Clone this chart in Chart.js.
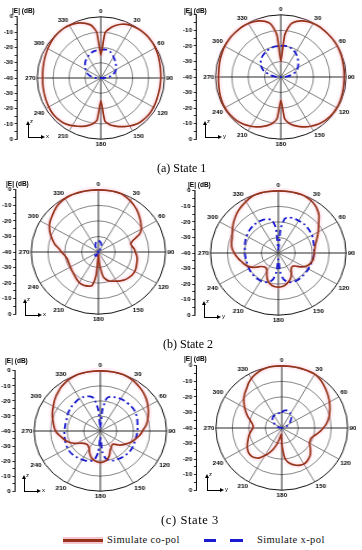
<!DOCTYPE html>
<html>
<head>
<meta charset="utf-8">
<script src="https://cdn.jsdelivr.net/npm/chart.js@4.4.1/dist/chart.umd.min.js"></script>
<style>
  body { margin: 0; background: #fff; }
  #fig { position: relative; width: 362px; height: 550px; overflow: hidden; background: #fff; }
  .panel { position: absolute; transform-origin: 0 0; }
  .etitle { position: absolute; font: bold 6.5px "Liberation Sans", Arial, sans-serif; line-height: 8px; white-space: nowrap; color: #000; }
  .cap { position: absolute; font: 12px "Liberation Serif", "Times New Roman", serif; line-height: 14px; white-space: nowrap; color: #000; }
  .lt { position: absolute; font: 10.5px "Liberation Serif", "Times New Roman", serif; letter-spacing: 0.4px; line-height: 12px; white-space: nowrap; color: #111; }
  .bx { position: absolute; }
  .ic { position: absolute; font: 6px "Liberation Sans", Arial, sans-serif; line-height: 7px; color: #000; }
</style>
</head>
<body>
<div id="fig"></div>
<script>
// angles, 5 degree steps, clockwise from top
const angleLabels = ['0','5','10','15','20','25','30','35','40','45','50','55',
  '60','65','70','75','80','85','90','95','100','105','110','115',
  '120','125','130','135','140','145','150','155','160','165','170','175',
  '180','185','190','195','200','205','210','215','220','225','230','235',
  '240','245','250','255','260','265','270','275','280','285','290','295',
  '300','305','310','315','320','325','330','335','340','345','350','355'];

// left |E| axis: position value -> shown dB
const axisTickValues = [40, 35, 30, 25, 20, 15, 10, 5, 0, -5, -10, -15, -20, -25, -30, -35, -40];

// State 1, xz plane
const s1xzCo = [-25,-10.5,-7,-4.5,-2.6,-1.3,-0.7,-0.3,0,0,0,-0.2,
  -0.5,-0.9,-1.3,-1.7,-2,-2.2,-2.3,-2.4,-2.4,-2.4,-2.3,-2,
  -1.8,-1.6,-1.6,-1.8,-2.1,-2.8,-3.8,-5,-6.2,-7.6,-9.2,-12,
  -25,-12.5,-9.5,-7.8,-6.4,-5.2,-4,-3,-2.3,-1.9,-1.8,-1.9,
  -2.2,-2.5,-2.8,-3,-3.2,-3.3,-3.4,-3.3,-3.1,-2.8,-2.4,-2,
  -1.5,-1,-0.6,-0.3,-0.1,0,-0.3,-0.8,-1.6,-3,-5,-10];
const s1xzX = [-21.5,-21.3,-21.2,-21.5,-22,-23,-24,-25,-26,-26.8,-27.5,-28.2,
  -29,-30,-31.2,-32.5,-34,-36,-38,-39.5,-40,-40,-40,-40,
  -40,-40,-40,-40,-40,-40,-40,-40,-40,-40,-40,-40,
  -40,-40,-40,-40,-40,-40,-40,-40,-40,-40,-40,-40,
  -40,-40,-40,-40,-39.5,-38.5,-37,-35,-33.5,-32,-31,-30,
  -29,-28,-27,-26,-25.2,-24.5,-23.8,-23,-22.5,-22,-21.8,-21.6];

// State 1, yz plane
const s1yzCo = [-30,-13,-5.5,-3,-1.6,-0.8,-0.3,0,0,0,0,0,
  -0.1,-0.3,-0.5,-0.8,-1,-1.1,-1.2,-1.2,-1.1,-0.9,-0.7,-0.5,
  -0.4,-0.4,-0.6,-1,-1.6,-2.4,-3.4,-4.6,-6,-7.6,-9.6,-13,
  -25,-13,-9.6,-7.6,-6,-4.6,-3.4,-2.4,-1.6,-1,-0.7,-0.5,
  -0.5,-0.6,-0.9,-1.2,-1.5,-1.7,-1.8,-1.8,-1.6,-1.3,-1,-0.7,
  -0.4,-0.2,0,0,0,0,-0.3,-0.8,-1.6,-3,-5.5,-13];
const s1yzX = [-20,-19.8,-19.8,-20,-20.5,-21.2,-22,-23,-24,-25,-26,-27,
  -28,-29.2,-30.5,-32,-34,-36,-38,-39.5,-40,-40,-40,-40,
  -40,-40,-40,-40,-40,-40,-40,-40,-40,-40,-40,-40,
  -40,-40,-40,-40,-40,-40,-40,-40,-40,-40,-40,-40,
  -40,-40,-40,-40,-40,-39.5,-38,-36,-34,-32,-29,-27.5,
  -26,-25,-24,-23.2,-22.5,-22,-21.5,-21,-20.6,-20.3,-20,-20];

// State 2, xz plane
const s2xzCo = [0,0,0,0,-0.2,-1,-2,-3.2,-4.5,-6,-7.5,-9,
  -10.5,-13,-18,-20,-19.5,-18.5,-18,-17.2,-16.5,-16.2,-15.8,-15.3,
  -15,-15,-15.3,-15.8,-16.4,-17.4,-18.4,-19.3,-20,-21.5,-24,-32,
  -38,-25,-18,-17.3,-17,-17,-17.3,-18,-18.8,-19.5,-20,-20.4,
  -20.8,-21,-21,-21,-20.5,-19.5,-18,-16.5,-14,-12,-10,-8,
  -6.3,-5,-4,-2.8,-1.6,-0.8,-0.3,0,0,0,0,0];
const s2xzX = [-33,-33,-33.5,-34,-35,-36,-37.5,-39,-40,-40,-40,-40,
  -40,-40,-40,-40,-40,-40,-40,-40,-40,-40,-40,-40,
  -40,-40,-40,-40,-40,-40,-40,-40,-40,-40,-40,-40,
  -40,-40,-40,-40,-38,-37.5,-37,-37,-37,-37.5,-38,-39,
  -40,-40,-40,-40,-40,-40,-40,-40,-40,-40,-40,-40,
  -40,-40,-40,-40,-40,-39,-37.5,-36,-35,-34,-33.5,-33];

// State 2, yz plane
const s2yzCo = [0,0,0,0,0,-0.5,-1.2,-2.3,-4,-6,-8.8,-11,
  -12.8,-14.5,-16,-17.2,-18,-18.5,-18.8,-19,-19,-19.3,-20,-21,
  -22.5,-24.5,-27,-28,-27.8,-26.8,-24.5,-22.5,-21,-19.8,-18.8,-18.2,
  -18,-18.2,-18.8,-19.8,-21.5,-24,-26.5,-27.8,-28,-27.5,-26.5,-24,
  -21.8,-20,-18.8,-17.8,-16.5,-15.2,-14,-12.8,-12,-11.5,-11,-10,
  -8.8,-7.5,-6.3,-5,-3.8,-2.8,-1.8,-0.8,-0.2,0,0,0];
const s2yzX = [-38,-24,-17.5,-16.5,-16,-16,-16,-16,-16,-16.2,-16.5,-16.8,
  -17,-17.5,-18,-18.3,-18.5,-18.7,-18.8,-19,-19.2,-19.4,-19.5,-19.5,
  -19.5,-19.5,-19.5,-19.4,-19.3,-19.2,-19.2,-19.5,-20,-21,-23,-28,
  -36,-28,-23,-21,-20,-19.5,-19.3,-19.3,-19.4,-19.5,-19.6,-19.8,
  -20,-20.2,-20.4,-20.5,-20.5,-20.4,-20.3,-20.2,-20,-19.6,-19.2,-18.8,
  -18.4,-18,-17.6,-17.3,-17,-16.8,-16.7,-16.8,-17,-17.5,-18.5,-24];

// State 3, xz plane
const s3xzCo = [0,0,0,0,0,-0.5,-1,-1.8,-2.6,-3.5,-4.5,-5.6,
  -6.8,-8,-9.2,-10.3,-11.5,-13,-14.5,-15.6,-17,-18.3,-19.5,-21,
  -22.5,-24,-25.5,-27.5,-28.5,-28,-27,-26,-23.5,-21.5,-20,-19.3,
  -19,-19.3,-20,-21,-22.5,-24.5,-26.5,-27.5,-28,-27.8,-27.2,-26,
  -23.5,-21.2,-19.2,-17.5,-16.2,-14.5,-13,-12,-11.2,-10.2,-9.2,-8.2,
  -7.2,-6,-4.8,-3.8,-2.6,-1.8,-1,-0.5,0,0,0,0];
const s3xzX = [-38,-26,-18,-16.4,-16,-15.6,-15.3,-15.2,-15.2,-15.2,-15.2,-15.2,
  -15.5,-15.9,-16.3,-16.8,-17.2,-17.4,-17.6,-17.8,-18,-18,-18,-17.8,
  -17.7,-17.6,-17.7,-17.8,-18,-18.2,-18.5,-18.7,-19,-20,-21.5,-26,
  -36,-26,-21,-19.5,-18.8,-18.3,-18,-17.7,-17.5,-17.2,-17,-17,
  -17.2,-17.4,-17.7,-17.9,-18,-18.2,-18.3,-18.4,-18.5,-18.4,-18.3,-17.8,
  -17.3,-16.9,-16.5,-16.1,-15.8,-15.4,-15,-15.2,-15.6,-16.2,-18,-26];

// State 3, yz plane
const s3yzCo = [0,0,0,0,0,0,0,-0.8,-1.8,-3,-4.2,-5.4,
  -6.6,-7.8,-9,-10.2,-11.5,-13,-14.8,-16.5,-18.3,-20,-21,-21,
  -20.6,-19,-17.3,-15.6,-14.5,-13.6,-13.3,-13.6,-14.5,-15.8,-17.5,-21,
  -30,-36,-34,-30,-26,-22.5,-19.5,-16.5,-15,-14.2,-14.2,-14.8,
  -15.8,-17,-18.2,-19.2,-20.3,-21.5,-22.5,-22.5,-21.5,-20,-18,-16,
  -14,-12,-10,-8.3,-6.8,-4.8,-3.2,-2,-1,-0.4,0,0];
const s3yzX = [-30,-29,-28.5,-28.3,-28.5,-28.8,-29.3,-30,-31,-32,-33,-34,
  -35,-36,-37,-38,-39,-40,-40,-40,-40,-40,-40,-40,
  -40,-40,-40,-40,-40,-40,-40,-40,-40,-40,-40,-40,
  -40,-40,-40,-40,-40,-40,-40,-40,-40,-40,-40,-40,
  -40,-40,-40,-40,-40,-40,-40,-40,-39,-38,-37,-36,
  -35,-34,-33,-32,-31.5,-31,-30.8,-30.6,-30.5,-30.5,-30.3,-30.2];

const captions = ['(a) State 1', '(b) State 2', '(c) State 3'];
const legendLabels = ['Simulate co-pol', 'Simulate x-pol'];

const CO = '#963219';
const XP = '#1a1ad0';
const AXIS_W = 16;

// page geometry of each panel: circle centre, radius, horizontal stretch, axis x
const panels = [
  { co: s1xzCo, xp: s1xzX, cx: 101, cy: 78, R: 61.5, sx: 1.04, ax: 20, tx: 12, ty: 7, ix: 28, iy: 137, h: 'x' },
  { co: s1yzCo, xp: s1yzX, cx: 281, cy: 77, R: 62, sx: 1.05, ax: 199, tx: 184, ty: 6.5, ix: 205, iy: 137, h: 'y' },
  { co: s2xzCo, xp: s2xzX, cx: 98.5, cy: 252, R: 62, sx: 1.08, ax: 18.5, tx: 6, ty: 180, ix: 25, iy: 315, h: 'x' },
  { co: s2yzCo, xp: s2yzX, cx: 278.5, cy: 252.5, R: 62, sx: 1.09, ax: 198, tx: 188, ty: 181, ix: 204, iy: 317, h: 'y' },
  { co: s3xzCo, xp: s3xzX, cx: 100, cy: 431, R: 60.5, sx: 1.1, ax: 17.5, tx: 5, ty: 357, ix: 24, iy: 491, h: 'x' },
  { co: s3yzCo, xp: s3yzX, cx: 281.5, cy: 428, R: 62, sx: 1.06, ax: 197, tx: 184, ty: 355, ix: 207, iy: 490, h: 'y' }
];

const fig = document.getElementById('fig');

// vertical |E| axis line only between the two 0 dB ticks
const axisLine = {
  id: 'axisLine',
  afterDraw(chart) {
    const y = chart.scales.y;
    const c = chart.ctx;
    const x = Math.round(y.right) - 0.5;
    c.save();
    c.strokeStyle = '#000';
    c.lineWidth = 1;
    c.beginPath();
    c.moveTo(x, y.getPixelForValue(40));
    c.lineTo(x, y.getPixelForValue(-40));
    c.stroke();
    c.restore();
  }
};

function build(p, canvas) {
  return new Chart(canvas, {
    type: 'radar',
    data: {
      labels: angleLabels,
      datasets: [
        { data: p.co, borderColor: CO, borderWidth: 1.7 },
        { data: p.xp, borderColor: XP, borderWidth: 1.8, borderDash: [6, 3, 2, 3] },
        { data: p.co, borderColor: 'rgba(255,170,200,0.2)', borderWidth: 6 }
      ]
    },
    options: {
      responsive: false,
      animation: false,
      layout: { padding: { top: 4, bottom: 4, left: 0, right: 0 } },
      elements: { point: { radius: 0, hitRadius: 0 }, line: { tension: 0.2, fill: false } },
      plugins: { legend: { display: false }, tooltip: { enabled: false } },
      scales: {
        r: {
          min: -40, max: 0,
          ticks: { display: false, stepSize: 10 },
          grid: {
            circular: true,
            color: c => c.index === 4 ? '#111' : '#666',
            lineWidth: c => c.index === 4 ? 1 : 0.8
          },
          angleLines: {
            color: c => c.index % 18 === 0 ? '#111' : (c.index % 6 === 0 ? '#707070' : 'rgba(0,0,0,0)'),
            lineWidth: c => c.index % 6 === 0 ? 0.9 : 0
          },
          pointLabels: {
            padding: 1.5,
            color: '#000',
            font: { family: 'Liberation Sans', size: 6, weight: 'bold' },
            callback: (label, i) => i % 6 === 0 ? label : ''
          }
        },
        y: {
          type: 'linear',
          position: 'left',
          min: -40, max: 40,
          afterFit: s => { s.width = AXIS_W; },
          afterBuildTicks: s => { s.ticks = axisTickValues.map(v => ({ value: v })); },
          ticks: {
            autoSkip: false,
            padding: 1.5,
            color: '#000',
            font: { family: 'Liberation Sans', size: 6, weight: 'bold' },
            callback: v => v % 10 === 0 ? String(Math.abs(v) - 40) : ''
          },
          grid: { drawOnChartArea: false, drawTicks: true, tickLength: 3, color: '#000', lineWidth: 0.8 },
          border: { display: false }
        }
      }
    },
    plugins: [axisLine]
  });
}

function makePanel(p) {
  const wrap = document.createElement('div');
  wrap.className = 'panel';
  wrap.style.transform = 'scaleX(' + p.sx + ')';
  fig.appendChild(wrap);
  const W = Math.round(AXIS_W + 2 * (p.cx - p.ax) / p.sx) + 2;
  let H = Math.round(2 * (p.R + 9) + 10);
  let chart;
  for (let k = 0; k < 4; k++) {
    wrap.innerHTML = '';
    const cv = document.createElement('canvas');
    cv.width = W;
    cv.height = H;
    wrap.appendChild(cv);
    chart = build(p, cv);
    const err = p.R - chart.scales.r.drawingArea;
    if (Math.abs(err) < 0.6 || k === 3) break;
    chart.destroy();
    H = Math.round(H + 2 * err);
  }
  // fit the |E| axis so its 0 ticks sit on the outer ring and -40 on the centre
  const r = chart.scales.r;
  const ca = chart.chartArea;
  const k = 40 / r.drawingArea;
  chart.options.scales.y.max = 40 + (r.yCenter - r.drawingArea - ca.top) * k;
  chart.options.scales.y.min = -40 - (ca.bottom - r.yCenter - r.drawingArea) * k;
  chart.update('none');
  wrap.style.left = (p.cx - r.xCenter * p.sx) + 'px';
  wrap.style.top = (p.cy - r.yCenter) + 'px';

  const t = document.createElement('div');
  t.className = 'etitle';
  t.textContent = '|E| (dB)';
  t.style.left = p.tx + 'px';
  t.style.top = p.ty + 'px';
  fig.appendChild(t);

  // small coordinate icon
  const add = (css, text, cls) => {
    const d = document.createElement('div');
    d.className = cls || 'bx';
    d.style.cssText += css;
    if (text) d.textContent = text;
    fig.appendChild(d);
  };
  add(`left:${p.ix}px;top:${p.iy - 13}px;width:1px;height:13px;background:#000;`);
  add(`left:${p.ix - 2}px;top:${p.iy - 16}px;width:0;height:0;border-left:2.5px solid transparent;border-right:2.5px solid transparent;border-bottom:4px solid #000;`);
  add(`left:${p.ix}px;top:${p.iy}px;width:13px;height:1px;background:#000;`);
  add(`left:${p.ix + 13}px;top:${p.iy - 2}px;width:0;height:0;border-top:2.5px solid transparent;border-bottom:2.5px solid transparent;border-left:4px solid #000;`);
  add(`left:${p.ix + 2}px;top:${p.iy - 19}px;`, 'z', 'ic');
  add(`left:${p.ix + 18}px;top:${p.iy - 4}px;`, p.h, 'ic');
}

panels.forEach(makePanel);

// captions
const capPos = [[157, 161, 12, 0], [163, 336.5, 12, 0], [161, 513, 12.5, 0.6]];
captions.forEach((c, i) => {
  const d = document.createElement('div');
  d.className = 'cap';
  d.textContent = c;
  d.style.left = capPos[i][0] + 'px';
  d.style.top = capPos[i][1] + 'px';
  d.style.fontSize = capPos[i][2] + 'px';
  d.style.letterSpacing = capPos[i][3] + 'px';
  fig.appendChild(d);
});

// legend
function legendBox(css) {
  const d = document.createElement('div');
  d.className = 'bx';
  d.style.cssText += css;
  fig.appendChild(d);
}
legendBox('left:63px;top:537px;width:40px;height:7px;background:#f6c6d0;');
legendBox('left:63px;top:539px;width:40px;height:3px;background:' + CO + ';');
legendBox('left:204px;top:539px;width:12px;height:3px;background:' + XP + ';');
legendBox('left:230px;top:539px;width:13px;height:3px;background:' + XP + ';');
[[107, legendLabels[0]], [257, legendLabels[1]]].forEach(([x, txt]) => {
  const d = document.createElement('div');
  d.className = 'lt';
  d.textContent = txt;
  d.style.left = x + 'px';
  d.style.top = '534px';
  fig.appendChild(d);
});
</script>
</body>
</html>
